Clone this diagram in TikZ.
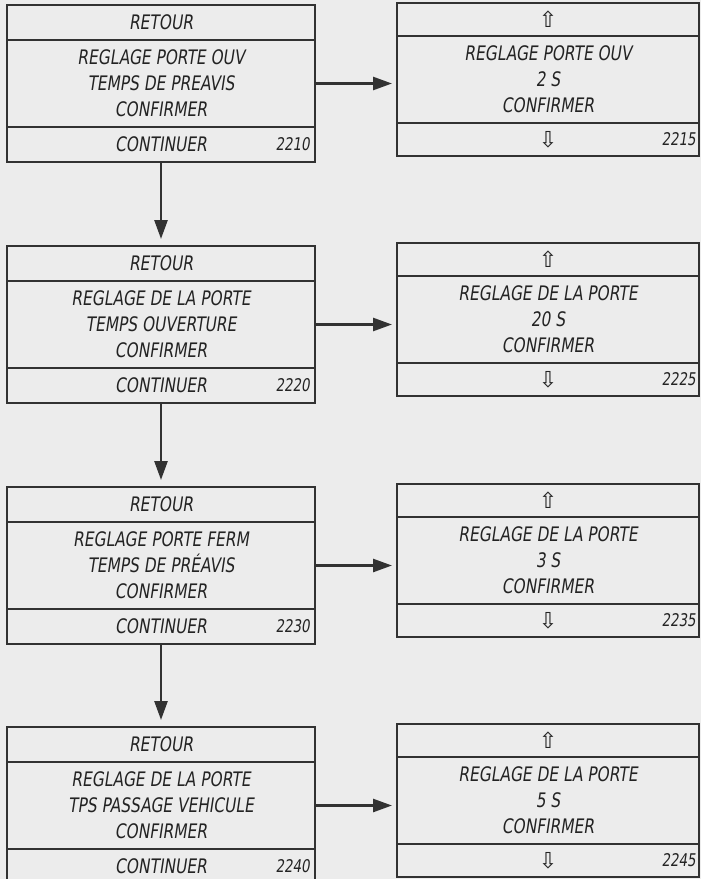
\documentclass[tikz,border=0pt]{standalone}
\usepackage{fontspec}
\usetikzlibrary{arrows.meta, positioning}
\newfontfamily\lcdfont[FakeStretch=0.77, FakeSlant=0.15]{DejaVu Sans}
\newfontfamily\navfont{DejaVu Sans}
\definecolor{panelgray}{RGB}{236,236,236}
\definecolor{framegray}{RGB}{50,50,50}
\definecolor{inkgray}{RGB}{35,35,35}
\tikzset{
  scr/.style    = {draw=framegray, line width=2pt, outer sep=0pt, inner sep=0pt,
                   text=inkgray, align=center, font=\lcdfont\fontsize{20}{26}\selectfont},
  lhead/.style  = {scr, minimum width=308pt, minimum height=35pt},
  lbody/.style  = {scr, minimum width=308pt, minimum height=87pt},
  lfoot/.style  = {scr, minimum width=308pt, minimum height=35pt},
  rhead/.style  = {scr, minimum width=302pt, minimum height=33pt, font=\navfont\fontsize{22}{22}\selectfont},
  rbody/.style  = {scr, minimum width=302pt, minimum height=87pt},
  rfoot/.style  = {scr, minimum width=302pt, minimum height=33pt, font=\navfont\fontsize{22}{22}\selectfont},
  num/.style    = {inner sep=0pt, text=inkgray, font=\lcdfont\fontsize{17.5}{17.5}\selectfont},
  arr/.style    = {-{Triangle[length=19pt, width=13pt]}, line width=2.6pt, color=framegray},
}

\begin{document}
\begin{tikzpicture}[x=1pt, y=-1pt]
  \path[use as bounding box, fill=panelgray] (0,0) rectangle (701,879);
  \clip (0,0) rectangle (701,879);

  % 2210 / 2215
  \node[lhead, anchor=north] (h2210) at (161,5) {RETOUR};
  \node[lbody, below=0pt of h2210] (b2210) {REGLAGE PORTE OUV\\TEMPS DE PREAVIS\\CONFIRMER};
  \node[lfoot, below=0pt of b2210] (f2210) {CONTINUER};
  \node[num, left=5pt of f2210.east] (n2210) {2210};
  \node[rhead, anchor=north] (h2215) at (548,3) {⇧};
  \node[rbody, below=0pt of h2215] (b2215) {REGLAGE PORTE OUV\\2 S\\CONFIRMER};
  \node[rfoot, below=0pt of b2215] (f2215) {⇩};
  \node[num, left=3pt of f2215.east] (n2215) {2215};

  % 2220 / 2225
  \node[lhead, anchor=north] (h2220) at (161,246) {RETOUR};
  \node[lbody, below=0pt of h2220] (b2220) {REGLAGE DE LA PORTE\\TEMPS OUVERTURE\\CONFIRMER};
  \node[lfoot, below=0pt of b2220] (f2220) {CONTINUER};
  \node[num, left=5pt of f2220.east] (n2220) {2220};
  \node[rhead, anchor=north] (h2225) at (548,243) {⇧};
  \node[rbody, below=0pt of h2225] (b2225) {REGLAGE DE LA PORTE\\20 S\\CONFIRMER};
  \node[rfoot, below=0pt of b2225] (f2225) {⇩};
  \node[num, left=3pt of f2225.east] (n2225) {2225};

  % 2230 / 2235
  \node[lhead, anchor=north] (h2230) at (161,487) {RETOUR};
  \node[lbody, below=0pt of h2230] (b2230) {REGLAGE PORTE FERM\\TEMPS DE PRÉAVIS\\CONFIRMER};
  \node[lfoot, below=0pt of b2230] (f2230) {CONTINUER};
  \node[num, left=5pt of f2230.east] (n2230) {2230};
  \node[rhead, anchor=north] (h2235) at (548,484) {⇧};
  \node[rbody, below=0pt of h2235] (b2235) {REGLAGE DE LA PORTE\\3 S\\CONFIRMER};
  \node[rfoot, below=0pt of b2235] (f2235) {⇩};
  \node[num, left=3pt of f2235.east] (n2235) {2235};

  % 2240 / 2245
  \node[lhead, anchor=north] (h2240) at (161,727) {RETOUR};
  \node[lbody, below=0pt of h2240] (b2240) {REGLAGE DE LA PORTE\\TPS PASSAGE VEHICULE\\CONFIRMER};
  \node[lfoot, below=0pt of b2240] (f2240) {CONTINUER};
  \node[num, left=5pt of f2240.east] (n2240) {2240};
  \node[rhead, anchor=north] (h2245) at (548,724) {⇧};
  \node[rbody, below=0pt of h2245] (b2245) {REGLAGE DE LA PORTE\\5 S\\CONFIRMER};
  \node[rfoot, below=0pt of b2245] (f2245) {⇩};
  \node[num, left=3pt of f2245.east] (n2245) {2245};

  \draw[arr, shorten >=5pt] (b2210.east) -- (b2210.east -| b2215.west);
  \draw[arr, shorten >=5pt] (b2220.east) -- (b2220.east -| b2225.west);
  \draw[arr, shorten >=5pt] (b2230.east) -- (b2230.east -| b2235.west);
  \draw[arr, shorten >=5pt] (b2240.east) -- (b2240.east -| b2245.west);
  \draw[arr, shorten >=7pt] (f2210.south) -- (h2220.north);
  \draw[arr, shorten >=7pt] (f2220.south) -- (h2230.north);
  \draw[arr, shorten >=7pt] (f2230.south) -- (h2240.north);
\end{tikzpicture}
\end{document}
